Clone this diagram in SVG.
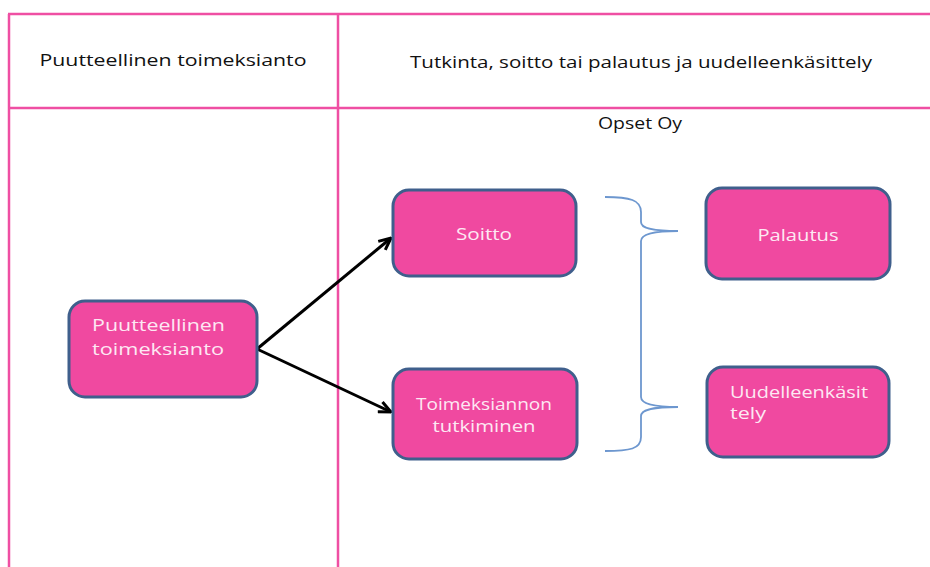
<svg xmlns="http://www.w3.org/2000/svg" width="930" height="567" viewBox="0 0 930 567">
<defs>
<style>
.lane{stroke:#ef4fa3;stroke-width:2.5;fill:none}
.node rect{fill:#f049a0;stroke:#3f5f8c;stroke-width:3}
.nt{font-family:"Open Sans","Liberation Sans",sans-serif;font-size:17px;fill:#fde8f3}
.ht{font-family:"Open Sans","Liberation Sans",sans-serif;font-size:17px;fill:#111}
.conn{stroke:#000;stroke-width:3;fill:none}
.brace{stroke:#6d97cf;stroke-width:1.8;fill:none}
</style>
<marker id="arr" viewBox="0 0 14 14" refX="13" refY="7" markerWidth="14" markerHeight="14" markerUnits="userSpaceOnUse" orient="auto">
<path d="M1,1.5 L13,7 L1,12.5" fill="none" stroke="#000" stroke-width="3"/>
</marker>
</defs>
<rect width="930" height="567" fill="#fff"/>
<g id="lanes">
<line class="lane" x1="8" y1="14" x2="930" y2="14"/>
<line class="lane" x1="8" y1="108" x2="930" y2="108"/>
<line class="lane" x1="9" y1="14" x2="9" y2="567"/>
<line class="lane" x1="338" y1="14" x2="338" y2="567"/>
<text class="ht" x="173" y="66" text-anchor="middle" textLength="267" lengthAdjust="spacingAndGlyphs">Puutteellinen toimeksianto</text>
<text class="ht" x="641" y="68" text-anchor="middle" textLength="462" lengthAdjust="spacingAndGlyphs">Tutkinta, soitto tai palautus ja uudelleenkäsittely</text>
<text class="ht" x="640" y="129" text-anchor="middle" font-size="15" textLength="84" lengthAdjust="spacingAndGlyphs">Opset Oy</text>
</g>
<g id="connectors">
<line class="conn" x1="257" y1="349" x2="391" y2="238" marker-end="url(#arr)"/>
<line class="conn" x1="257" y1="349" x2="391" y2="412" marker-end="url(#arr)"/>
<path class="brace" d="M605,197 C630,197 641,200 641,212 L641,222 C641,228 650,231 678,231 C650,231 641,235 641,241 L641,397 C641,403 650,407 678,407 C650,407 641,410 641,416 L641,437 C641,449 630,451 605,451"/>
</g>
<g id="n-puutteellinen" class="node">
<rect x="69" y="301" width="188" height="96" rx="16"/>
<text class="nt" x="92" y="331" textLength="133" lengthAdjust="spacingAndGlyphs">Puutteellinen</text>
<text class="nt" x="92" y="355" textLength="132" lengthAdjust="spacingAndGlyphs">toimeksianto</text>
</g>
<g id="n-soitto" class="node">
<rect x="393" y="190" width="183" height="86" rx="16"/>
<text class="nt" x="484" y="240" text-anchor="middle" textLength="56" lengthAdjust="spacingAndGlyphs">Soitto</text>
</g>
<g id="n-tutkiminen" class="node">
<rect x="393" y="369" width="184" height="90" rx="16"/>
<text class="nt" x="484" y="410" text-anchor="middle" textLength="136" lengthAdjust="spacingAndGlyphs">Toimeksiannon</text>
<text class="nt" x="484" y="432" text-anchor="middle" textLength="103" lengthAdjust="spacingAndGlyphs">tutkiminen</text>
</g>
<g id="n-palautus" class="node">
<rect x="706" y="188" width="184" height="91" rx="16"/>
<text class="nt" x="798" y="241" text-anchor="middle" textLength="81" lengthAdjust="spacingAndGlyphs">Palautus</text>
</g>
<g id="n-uudelleen" class="node">
<rect x="707" y="367" width="182" height="90" rx="16"/>
<text class="nt" x="730" y="398" textLength="138" lengthAdjust="spacingAndGlyphs">Uudelleenkäsit</text>
<text class="nt" x="730" y="419" textLength="36" lengthAdjust="spacingAndGlyphs">tely</text>
</g>
</svg>
